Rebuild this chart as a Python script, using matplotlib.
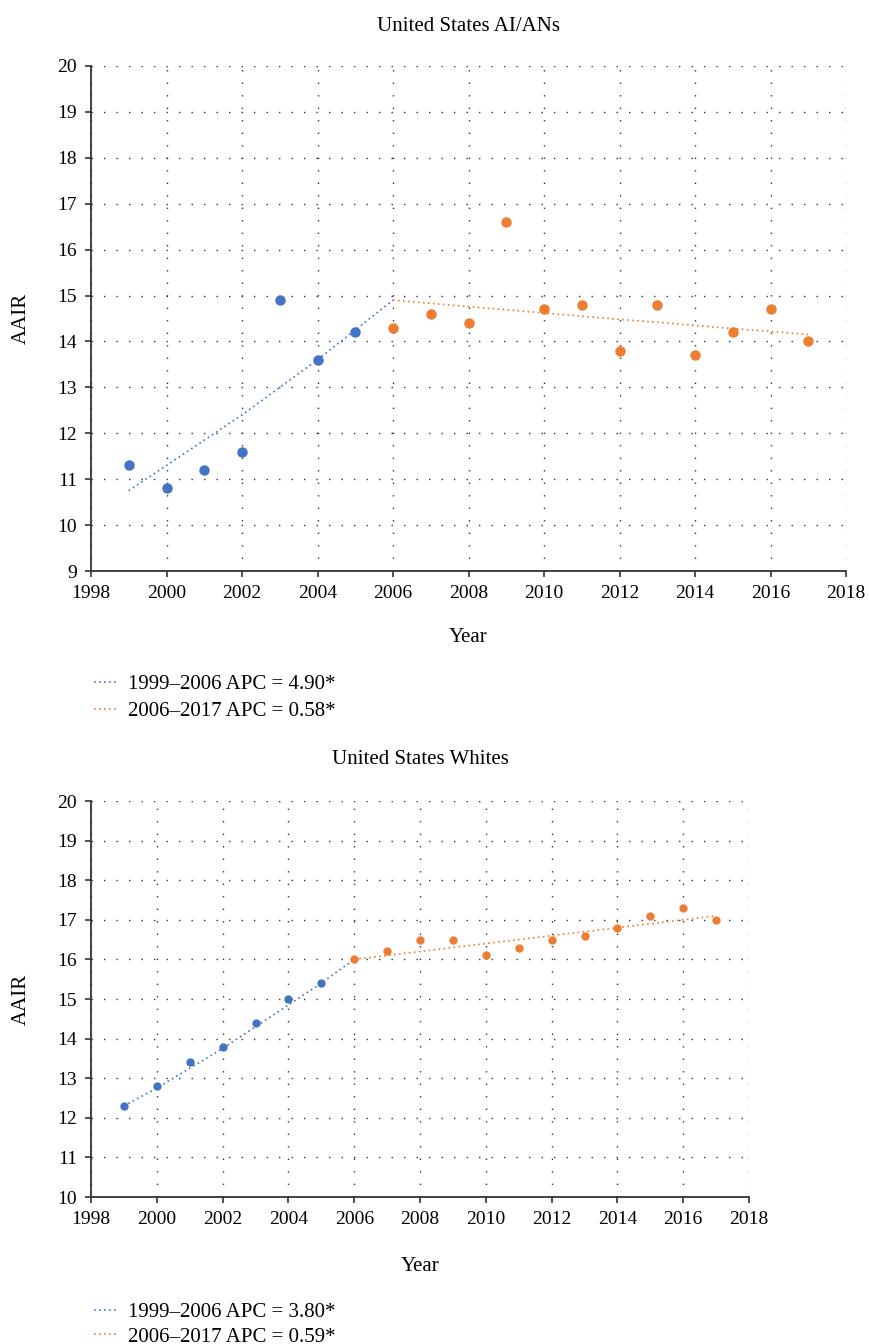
import matplotlib
matplotlib.use("Agg")
from matplotlib import pyplot as plt

years = list(range(1999, 2018))

# United States AI/ANs
aian_rate = [11.3, 10.8, 11.2, 11.6, 14.9, 13.6, 14.2,
             14.3, 14.6, 14.4, 16.6, 14.7, 14.8, 13.8, 14.8, 13.7, 14.2, 14.7, 14.0]
aian_fit1_years = list(range(1999, 2007))
aian_fit1 = [10.75, 11.3, 11.85, 12.4, 13.0, 13.6, 14.25, 14.9]
aian_fit2_years = list(range(2006, 2018))
aian_fit2 = [14.9, 14.83, 14.76, 14.69, 14.62, 14.55, 14.48, 14.42, 14.35, 14.28, 14.22, 14.15]

# United States Whites
white_rate = [12.3, 12.8, 13.4, 13.8, 14.4, 15.0, 15.4,
              16.0, 16.2, 16.5, 16.5, 16.1, 16.3, 16.5, 16.6, 16.8, 17.1, 17.3, 17.0]
white_fit1_years = list(range(1999, 2007))
white_fit1 = [12.3, 12.75, 13.25, 13.75, 14.3, 14.85, 15.4, 16.0]
white_fit2_years = list(range(2006, 2018))
white_fit2 = [16.0, 16.1, 16.2, 16.3, 16.4, 16.5, 16.6, 16.7, 16.8, 16.9, 17.0, 17.1]

blue = '#4472C4'
orange = '#ED7D31'

plt.rcParams['font.family'] = ['Liberation Serif', 'DejaVu Serif']
plt.rcParams['font.size'] = 14

fig = plt.figure(figsize=(8.69, 13.44), dpi=100)
W, H = 869.0, 1344.0


def make_panel(rect, title, rate, f1x, f1, f2x, f2, ylim, msize, labels, legend_y, tpad, xpad, lspace):
    ax = fig.add_axes(rect)
    split = 7
    ax.plot(years[:split], rate[:split], 'o', color=blue, ms=msize, zorder=3)
    ax.plot(years[split:], rate[split:], 'o', color=orange, ms=msize, zorder=3)
    l1, = ax.plot(f1x, f1, color=blue, lw=1.2, ls=(0, (1, 2)), zorder=2, label=labels[0])
    l2, = ax.plot(f2x, f2, color=orange, lw=1.2, ls=(0, (1, 2)), zorder=2, label=labels[1])
    ax.set_xlim(1998, 2018)
    ax.set_ylim(*ylim)
    ax.set_xticks(range(1998, 2019, 2))
    ax.set_yticks(range(ylim[0], ylim[1] + 1))
    ax.grid(True, color='#333333', lw=1.0, ls=(0, (1, 8)))
    ax.set_axisbelow(True)
    for s in ['top', 'right']:
        ax.spines[s].set_visible(False)
    for s in ['left', 'bottom']:
        ax.spines[s].set_linewidth(1.3)
        ax.spines[s].set_color('#333333')
    ax.tick_params(direction='out', length=4, width=1.2, color='#333333', pad=6)
    ax.set_title(title, fontsize=15, pad=tpad)
    ax.set_xlabel('Year', labelpad=xpad, fontsize=15)
    ax.set_ylabel('AAIR', labelpad=19, fontsize=15)
    ax.legend(handles=[l1, l2], loc='upper left', frameon=False,
              bbox_to_anchor=(75 / W, legend_y), bbox_transform=fig.transFigure,
              handlelength=1.15, handletextpad=0.5, labelspacing=lspace, fontsize=15)
    return ax


make_panel([91 / W, 1 - 571 / H, (846 - 91) / W, (571 - 66) / H],
           'United States AI/ANs', aian_rate,
           aian_fit1_years, aian_fit1, aian_fit2_years, aian_fit2,
           (9, 20), 6.5,
           ['1999\u20132006 APC = 4.90*', '2006\u20132017 APC = 0.58*'],
           1 - 656 / H, 25, 19, 0.35)

make_panel([91 / W, 1 - 1197 / H, (749 - 91) / W, (1197 - 801) / H],
           'United States Whites', white_rate,
           white_fit1_years, white_fit1, white_fit2_years, white_fit2,
           (10, 20), 5,
           ['1999\u20132006 APC = 3.80*', '2006\u20132017 APC = 0.59*'],
           1 - 1284 / H, 27, 21, 0.22)

fig.savefig('out.png', dpi=100)
